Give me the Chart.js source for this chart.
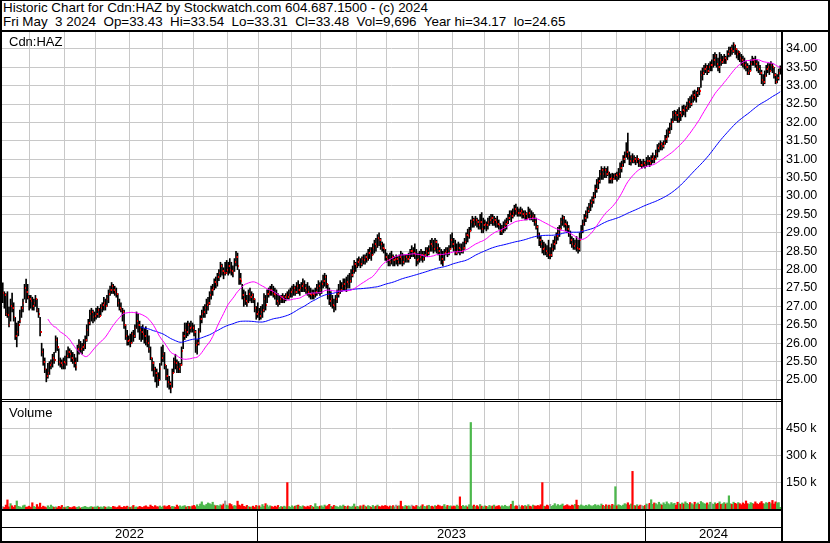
<!DOCTYPE html>
<html>
<head>
<meta charset="utf-8">
<script src="https://cdn.jsdelivr.net/npm/chart.js@4.4.1/dist/chart.umd.min.js"></script>
<style>
  body { margin: 0; background: #fff; font-family: "Liberation Sans", Arial, sans-serif; }
  #wrap { position: relative; width: 830px; height: 543px; overflow: hidden; background: #fff; }
  .ln { position: absolute; background: #000; z-index: 5; }
  .txt { position: absolute; font-size: 13px; line-height: 14px; color: #000; white-space: pre; z-index: 6; }
  .hd { font-size: 13.4px; }
  .yr { position: absolute; top: 527px; height: 14px; font-size: 13px; line-height: 14px; text-align: center; z-index: 6; }
  canvas { position: absolute; left: 0; }
</style>
</head>
<body>
<div id="wrap">
  <div class="txt hd" style="left:3px;top:1px">Historic Chart for Cdn:HAZ by Stockwatch.com 604.687.1500 - (c) 2024</div>
  <div class="txt hd" style="left:3px;top:15px">Fri May&#160; 3 2024&#160; Op=33.43&#160; Hi=33.54&#160; Lo=33.31&#160; Cl=33.48&#160; Vol=9,696&#160; Year hi=34.17&#160; lo=24.65</div>

  <canvas id="price" width="830" height="367" style="top:32px"></canvas>
  <canvas id="volume" width="830" height="107" style="top:402px"></canvas>

  <div class="txt" style="left:9px;top:35px">Cdn:HAZ</div>
  <div class="txt" style="left:9px;top:406px">Volume</div>

  <div class="ln" style="left:0;top:0;width:830px;height:1px"></div>
  <div class="ln" style="left:0;top:30px;width:830px;height:2px"></div>
  <div class="ln" style="left:0;top:0;width:2px;height:543px"></div>
  <div class="ln" style="left:828px;top:0;width:2px;height:543px"></div>
  <div class="ln" style="left:0;top:541px;width:830px;height:2px"></div>
  <div class="ln" style="left:781px;top:31px;width:2px;height:512px"></div>
  <div class="ln" style="left:0;top:399px;width:781px;height:1px"></div>
  <div class="ln" style="left:0;top:401px;width:781px;height:1px"></div>
  <div class="ln" style="left:0;top:509px;width:781px;height:2px"></div>
  <div class="ln" style="left:0;top:527px;width:781px;height:1px"></div>
  <div class="ln" style="left:257px;top:510px;width:1px;height:32px"></div>
  <div class="ln" style="left:645px;top:510px;width:1px;height:32px"></div>

  <div class="yr" style="left:2px;width:255px">2022</div>
  <div class="yr" style="left:258px;width:387px">2023</div>
  <div class="yr" style="left:646px;width:135px">2024</div>
</div>

<script>
// trading days per month, May 2022 .. May 2024
const months = ['2022-05','2022-06','2022-07','2022-08','2022-09','2022-10','2022-11','2022-12',
  '2023-01','2023-02','2023-03','2023-04','2023-05','2023-06','2023-07','2023-08','2023-09','2023-10','2023-11','2023-12',
  '2024-01','2024-02','2024-03','2024-04','2024-05'];
const monthDays = [18,22,20,22,21,20,22,20, 21,19,23,19,21,22,20,22,20,21,22,19, 22,20,20,22,3];

const highs = [
  27.64,27.4,27.35,27.4,26.98,27.2,27.36,27.1,26.7,26.55,26.6,26.9,27.0,27.2,27.6,27.74,27.6,27.3,27.3,27.25,
  27.2,27.3,27.2,26.95,26.7,26.0,25.85,25.6,25.3,25.45,25.5,25.55,25.7,25.75,26.2,26.15,25.85,25.6,25.55,25.6,
  25.65,25.8,25.9,25.85,25.8,25.75,25.7,25.6,25.95,26.1,26.05,26.0,26.1,26.2,26.5,26.65,26.9,26.95,26.9,26.85,
  26.95,27.0,26.95,27.05,27.1,27.25,27.2,27.3,27.45,27.55,27.65,27.6,27.55,27.5,27.35,27.2,27.1,26.95,26.9,26.5,
  26.35,26.2,26.25,26.3,26.35,26.5,26.85,26.8,26.6,26.45,26.5,26.4,26.45,26.35,26.2,25.9,25.6,25.5,25.35,25.3,
  25.2,25.45,25.9,25.95,25.75,25.4,25.3,25.1,24.95,25.3,25.6,25.7,25.55,25.5,25.45,25.9,26.3,26.55,26.55,26.6,
  26.55,26.6,26.55,26.5,26.35,26.1,26.4,26.75,26.9,27.0,27.05,27.2,27.25,27.4,27.55,27.6,27.75,27.8,27.9,28.0,
  28.2,28.15,28.05,28.2,28.25,28.2,28.3,28.2,28.1,28.3,28.5,28.45,28.0,27.9,27.6,27.45,27.4,27.3,27.45,27.5,
  27.4,27.35,27.2,27.0,27.1,26.95,27.0,27.05,27.35,27.3,27.45,27.5,27.55,27.6,27.55,27.5,27.45,27.35,27.3,27.3,
  27.35,27.3,27.35,27.4,27.45,27.5,27.55,27.6,27.55,27.65,27.7,27.6,27.65,27.75,27.7,27.6,27.65,27.55,27.5,27.45,
  27.45,27.5,27.6,27.7,27.65,27.7,27.85,27.9,27.85,27.6,27.5,27.4,27.3,27.2,27.3,27.45,27.6,27.7,27.65,27.75,
  27.75,27.8,27.85,27.9,28.0,28.1,28.25,28.2,28.3,28.35,28.3,28.35,28.4,28.4,28.45,28.55,28.6,28.6,28.7,28.8,
  28.85,28.95,29.0,28.85,28.75,28.7,28.55,28.45,28.4,28.45,28.5,28.4,28.35,28.4,28.35,28.4,28.5,28.45,28.4,28.4,
  28.4,28.45,28.55,28.65,28.6,28.7,28.55,28.45,28.5,28.55,28.5,28.5,28.6,28.6,28.65,28.8,28.85,28.8,28.85,28.8,
  28.7,28.6,28.55,28.5,28.55,28.6,28.6,28.65,28.95,29.0,28.85,28.8,28.7,28.75,28.7,28.7,28.75,28.85,29.0,29.1,
  29.15,29.35,29.45,29.4,29.45,29.4,29.35,29.5,29.55,29.4,29.35,29.3,29.4,29.45,29.5,29.5,29.45,29.4,29.45,29.35,
  29.25,29.2,29.3,29.35,29.4,29.5,29.6,29.6,29.65,29.75,29.78,29.7,29.65,29.7,29.65,29.6,29.6,29.55,29.7,29.65,
  29.6,29.55,29.5,29.4,29.2,29.0,28.9,28.8,28.75,28.7,28.65,28.8,28.6,28.7,28.8,28.9,29.0,29.15,29.2,29.4,
  29.48,29.45,29.35,29.3,29.2,29.05,28.9,28.85,28.8,28.9,28.8,29.0,29.2,29.35,29.5,29.6,29.7,29.8,29.9,29.98,
  30.1,30.3,30.45,30.5,30.7,30.8,30.75,30.8,30.75,30.8,30.65,30.6,30.62,30.6,30.62,30.65,30.75,30.9,30.95,31.1,
  31.2,31.45,31.71,31.2,31.1,31.15,31.1,31.05,31.1,31.0,31.0,30.95,31.0,30.95,31.05,31.1,31.05,31.1,31.17,31.1,
  31.25,31.4,31.44,31.5,31.45,31.5,31.65,31.8,31.85,31.98,32.1,32.3,32.33,32.3,32.35,32.4,32.3,32.45,32.47,32.45,
  32.55,32.65,32.7,32.75,32.85,32.88,32.85,32.95,32.95,33.4,33.48,33.55,33.6,33.55,33.6,33.65,33.7,33.85,33.9,33.85,
  33.75,33.9,33.85,33.8,33.85,33.8,33.95,34.05,34.05,34.1,34.17,34.1,34.0,33.95,33.9,33.85,33.8,33.75,33.65,33.6,
  33.55,33.7,33.8,33.75,33.8,33.7,33.65,33.55,33.42,33.3,33.4,33.55,33.6,33.6,33.65,33.6,33.5,33.33,33.3,33.45,
  33.54
];

const lows = [
  27.1,26.95,26.75,26.7,26.44,26.6,26.85,26.6,26.1,25.9,26.2,26.55,26.7,26.85,27.2,27.1,27.2,26.9,26.95,26.9,
  26.9,27.0,26.85,26.7,26.2,25.65,25.4,25.2,24.95,25.05,25.15,25.3,25.35,25.45,25.75,25.8,25.4,25.35,25.3,25.3,
  25.3,25.4,25.6,25.6,25.5,25.45,25.35,25.27,25.5,25.7,25.75,25.7,25.8,25.85,26.05,26.2,26.5,26.6,26.55,26.6,
  26.65,26.7,26.7,26.75,26.85,26.9,26.9,27.0,27.1,27.3,27.35,27.35,27.3,27.25,27.0,26.9,26.85,26.6,26.4,26.1,
  25.95,25.95,25.9,26.0,26.05,26.15,26.4,26.3,26.1,26.05,26.1,26.0,25.95,25.9,25.75,25.55,25.25,25.1,24.95,24.8,
  24.85,25.0,25.4,25.5,25.3,25.0,24.8,24.75,24.65,24.8,25.2,25.3,25.2,25.2,25.2,25.4,25.85,26.1,26.15,26.2,
  26.25,26.3,26.3,26.2,25.75,25.7,25.95,26.3,26.55,26.7,26.7,26.8,26.9,27.05,27.2,27.3,27.45,27.5,27.55,27.7,
  27.8,27.85,27.75,27.85,27.9,27.85,27.9,27.85,27.8,27.95,28.1,28.0,27.6,27.6,27.2,27.0,27.05,27.0,27.1,27.15,
  27.1,27.1,26.85,26.65,26.7,26.63,26.65,26.7,26.85,26.9,27.1,27.25,27.3,27.3,27.25,27.2,27.05,27.0,27.05,27.1,
  27.1,27.1,27.15,27.2,27.2,27.25,27.25,27.3,27.3,27.35,27.35,27.3,27.4,27.4,27.4,27.35,27.3,27.25,27.2,27.2,
  27.2,27.25,27.3,27.35,27.3,27.35,27.5,27.55,27.5,27.2,27.05,27.0,26.95,26.85,26.9,27.1,27.25,27.35,27.4,27.45,
  27.45,27.4,27.5,27.5,27.65,27.8,27.9,27.95,28.05,28.1,28.05,28.1,28.15,28.15,28.2,28.25,28.3,28.25,28.4,28.45,
  28.5,28.6,28.65,28.55,28.5,28.45,28.25,28.2,28.1,28.1,28.15,28.1,28.1,28.15,28.1,28.15,28.15,28.1,28.15,28.2,
  28.2,28.2,28.3,28.35,28.35,28.3,28.1,28.15,28.2,28.25,28.2,28.25,28.35,28.35,28.4,28.5,28.5,28.45,28.5,28.45,
  28.4,28.25,28.15,28.1,28.25,28.4,28.35,28.4,28.55,28.6,28.5,28.4,28.4,28.45,28.4,28.45,28.45,28.55,28.7,28.75,
  28.85,29.05,29.15,29.15,29.2,29.15,29.1,29.1,29.0,29.0,29.1,29.05,29.1,29.2,29.25,29.2,29.2,29.15,29.15,29.1,
  28.95,28.95,29.0,29.05,29.1,29.25,29.35,29.3,29.4,29.45,29.5,29.45,29.45,29.45,29.4,29.4,29.35,29.35,29.4,29.35,
  29.35,29.3,29.2,29.1,28.85,28.65,28.6,28.45,28.4,28.4,28.35,28.3,28.29,28.35,28.5,28.55,28.7,28.8,28.9,29.1,
  29.2,29.15,29.05,29.0,28.9,28.7,28.6,28.55,28.55,28.5,28.45,28.5,28.85,29.0,29.2,29.3,29.4,29.55,29.6,29.7,
  29.8,29.95,30.1,30.2,30.35,30.45,30.45,30.5,30.5,30.55,30.35,30.35,30.35,30.45,30.45,30.4,30.45,30.5,30.65,30.8,
  30.9,31.05,31.0,30.85,30.84,30.9,30.9,30.85,30.9,30.8,30.8,30.76,30.8,30.76,30.8,30.85,30.8,30.85,30.9,30.9,
  31.0,31.06,31.2,31.25,31.25,31.3,31.4,31.45,31.6,31.7,31.8,32.0,32.05,32.05,32.0,32.0,32.05,32.15,32.2,32.15,
  32.3,32.35,32.4,32.45,32.55,32.6,32.55,32.7,32.75,32.95,33.15,33.3,33.35,33.3,33.35,33.4,33.4,33.5,33.55,33.5,
  33.4,33.35,33.55,33.6,33.6,33.6,33.7,33.78,33.8,33.85,33.9,33.85,33.75,33.7,33.65,33.55,33.5,33.45,33.4,33.3,
  33.3,33.4,33.55,33.55,33.5,33.4,33.35,33.3,33.05,33.0,33.05,33.25,33.35,33.3,33.4,33.35,33.2,33.05,33.07,33.15,
  33.31
];

const closes = [
  27.36,27.3,26.8,26.77,26.5,27.0,26.95,26.7,26.2,26.3,26.5,26.6,26.95,27.1,27.5,27.4,27.25,27.2,27.15,27.0,
  27.1,27.2,26.9,26.8,26.3,25.75,25.5,25.3,25.1,25.2,25.4,25.45,25.6,25.55,26.1,25.9,25.5,25.45,25.4,25.5,
  25.45,25.65,25.75,25.7,25.6,25.55,25.45,25.35,25.85,25.95,25.85,25.9,25.95,26.1,26.35,26.55,26.8,26.85,26.7,26.75,
  26.8,26.9,26.75,26.95,27.05,27.1,27.0,27.2,27.35,27.45,27.55,27.45,27.4,27.35,27.1,26.95,26.9,26.85,26.5,26.2,
  26.05,26.1,26.0,26.25,26.2,26.4,26.6,26.5,26.35,26.3,26.25,26.2,26.05,26.0,25.85,25.6,25.45,25.3,25.2,25.1,
  25.0,25.3,25.6,25.7,25.4,25.1,24.95,24.9,24.78,25.2,25.5,25.45,25.35,25.3,25.4,25.8,26.2,26.35,26.3,26.5,
  26.4,26.45,26.4,26.3,25.95,26.0,26.3,26.65,26.8,26.85,26.95,27.05,27.1,27.3,27.45,27.5,27.65,27.6,27.8,27.9,
  28.1,27.95,27.9,27.9,28.0,28.1,28.0,27.95,27.9,28.2,28.35,28.1,27.75,27.7,27.3,27.2,27.15,27.1,27.35,27.25,
  27.3,27.2,26.95,26.8,26.85,26.75,26.85,26.9,27.2,27.05,27.35,27.4,27.45,27.4,27.35,27.3,27.15,27.1,27.2,27.25,
  27.2,27.25,27.3,27.25,27.3,27.4,27.45,27.5,27.4,27.55,27.45,27.5,27.55,27.6,27.5,27.45,27.4,27.35,27.3,27.35,
  27.3,27.4,27.5,27.55,27.45,27.6,27.7,27.8,27.6,27.3,27.15,27.2,27.05,27.0,27.2,27.35,27.4,27.45,27.55,27.6,
  27.5,27.65,27.6,27.7,27.85,27.95,28.15,28.1,28.2,28.25,28.15,28.3,28.25,28.35,28.3,28.45,28.5,28.4,28.6,28.7,
  28.65,28.85,28.8,28.7,28.6,28.55,28.35,28.3,28.25,28.2,28.35,28.25,28.3,28.3,28.2,28.35,28.3,28.2,28.3,28.35,
  28.3,28.35,28.5,28.5,28.45,28.4,28.25,28.3,28.35,28.4,28.3,28.4,28.5,28.45,28.55,28.7,28.65,28.55,28.75,28.6,
  28.5,28.4,28.3,28.2,28.45,28.5,28.45,28.55,28.8,28.7,28.6,28.45,28.5,28.6,28.55,28.5,28.6,28.75,28.95,28.9,
  29.05,29.3,29.35,29.25,29.35,29.3,29.2,29.3,29.1,29.2,29.25,29.2,29.3,29.35,29.4,29.3,29.35,29.3,29.25,29.2,
  29.05,29.1,29.15,29.25,29.3,29.4,29.5,29.45,29.55,29.65,29.6,29.55,29.55,29.6,29.5,29.45,29.5,29.4,29.55,29.45,
  29.4,29.45,29.3,29.15,28.95,28.8,28.7,28.55,28.6,28.5,28.45,28.4,28.4,28.55,28.7,28.75,28.9,29.0,29.1,29.3,
  29.4,29.25,29.2,29.1,29.0,28.8,28.7,28.65,28.7,28.6,28.55,28.8,29.05,29.25,29.4,29.5,29.6,29.7,29.8,29.9,
  30.0,30.2,30.35,30.4,30.6,30.7,30.6,30.7,30.6,30.65,30.45,30.5,30.45,30.55,30.58,30.55,30.6,30.75,30.85,31.0,
  31.1,31.2,31.1,30.95,31.05,30.95,31.0,30.95,31.0,30.9,30.85,30.85,30.9,30.85,30.95,30.95,30.9,31.0,31.05,31.0,
  31.15,31.3,31.35,31.4,31.35,31.45,31.55,31.6,31.75,31.9,32.0,32.2,32.25,32.2,32.1,32.25,32.2,32.35,32.3,32.4,
  32.45,32.55,32.5,32.65,32.75,32.7,32.8,32.9,32.85,33.3,33.35,33.45,33.5,33.4,33.5,33.55,33.55,33.7,33.8,33.6,
  33.5,33.7,33.65,33.7,33.75,33.7,33.85,33.95,34.0,33.95,34.1,34.0,33.85,33.9,33.75,33.7,33.6,33.55,33.5,33.35,
  33.4,33.6,33.7,33.65,33.6,33.5,33.45,33.35,33.15,33.1,33.25,33.45,33.5,33.4,33.55,33.5,33.3,33.1,33.2,33.35,
  33.48
];

// volume in thousands of shares
const volumes = [
  14,9,22,51,12,30,18,10,20,45,15,12,8,18,22,10,12,16,9,35,
  14,10,25,12,33,9,16,12,8,18,10,22,14,9,12,7,15,11,20,10,
  8,12,15,9,7,11,14,8,10,13,6,9,12,15,10,8,11,14,9,12,
  10,16,9,12,8,14,11,7,13,10,9,15,12,8,11,18,10,9,14,12,
  16,11,9,13,20,10,12,8,15,11,9,14,18,12,10,22,15,11,19,13,
  12,17,10,14,18,12,16,20,11,15,13,10,22,14,18,12,16,19,11,15,
  14,12,17,20,13,24,15,28,40,22,18,26,34,30,25,38,22,18,20,16,
  24,19,28,45,22,18,30,25,14,20,16,44,22,18,27,15,12,20,14,10,
  12,16,9,20,14,18,10,25,15,30,22,12,18,14,10,16,12,20,9,14,
  11,16,12,148,14,10,18,12,16,20,22,15,12,18,14,9,16,12,20,15,
  10,30,14,12,16,18,11,22,14,19,26,15,12,20,16,13,10,18,14,22,
  15,12,17,14,10,16,28,12,15,11,18,14,22,16,12,19,15,10,20,13,
  16,22,14,12,18,15,20,16,11,17,14,19,12,22,16,18,44,14,12,20,
  15,18,13,22,16,12,20,14,11,17,24,15,13,18,21,14,16,12,19,15,
  22,18,14,16,25,12,20,15,18,13,17,14,22,16,68,15,20,14,18,12,
  24,485,16,22,14,19,13,25,16,12,18,15,11,20,14,17,22,13,16,19,
  12,18,14,21,15,12,17,26,44,14,18,16,22,12,19,15,20,14,24,16,
  13,22,18,15,20,17,24,148,16,14,22,18,26,15,20,30,17,25,19,22,
  28,16,20,24,18,15,22,19,26,50,20,17,23,18,15,21,17,24,19,14,
  20,25,18,22,16,28,20,15,24,18,22,17,26,20,125,18,24,20,16,22,
  30,25,35,22,28,211,20,18,24,16,22,19,15,20,28,24,32,52,26,34,
  30,24,38,28,22,35,26,40,30,24,36,28,32,22,38,30,26,34,28,40,
  32,26,36,30,24,38,28,34,26,42,36,30,28,34,24,38,30,26,35,28,
  32,40,26,30,36,28,34,74,30,26,38,32,28,36,30,24,34,28,45,30,
  26,36,32,28,40,30,26,34,42,30,28,36,32,38,30,48,28,40,34,36,
  10
];

const priceTicks = [25,25.5,26,26.5,27,27.5,28,28.5,29,29.5,30,30.5,31,31.5,32,32.5,33,33.5,34];
const volumeTicks = [150, 300, 450];

// build labels + month-start flags
const labels = [];
const monthStart = [];
months.forEach((m, k) => {
  for (let d = 0; d < monthDays[k]; d++) {
    labels.push(m + '#' + (d + 1));
    monthStart.push(d === 0 && labels.length > 1);
  }
});

function movingAvg(arr, n) {
  return arr.map((v, i) => {
    if (i < n - 1) return null;
    let s = 0;
    for (let j = i - n + 1; j <= i; j++) s += arr[j];
    return s / n;
  });
}

const ma30 = movingAvg(closes, 30);
const ma90 = movingAvg(closes, 90);
const ranges = highs.map((h, i) => [lows[i], h]);
const volColors = volumes.map((v, i) => {
  if (i === 0) return '#a0a0a0';
  const d = closes[i] - closes[i - 1];
  if (Math.abs(d) < 1e-9) return '#a0a0a0';
  return d > 0 ? '#4cb84c' : '#ff0000';
});

// close tick: thin red mark just right of the bar
const closeMark = document.createElement('canvas');
closeMark.width = 3;
closeMark.height = 2;
const cm = closeMark.getContext('2d');
cm.fillStyle = '#ff0000';
cm.fillRect(2, 0, 1, 2);

const gridGray = '#c8c8c8';
const tickFont = { family: '"Liberation Sans", Arial, sans-serif', size: 12.5 };

function xScale() {
  return {
    type: 'category',
    offset: true,
    grid: {
      offset: true,
      drawTicks: false,
      color: c => monthStart[c.index] ? gridGray : 'rgba(0,0,0,0)',
      lineWidth: 1
    },
    border: { display: false },
    ticks: { display: false, autoSkip: false }
  };
}

function noEdgePadding(s) {
  s.width = 49;
  s.paddingTop = 0;
  s.paddingBottom = 0;
}

new Chart(document.getElementById('price'), {
  data: {
    labels: labels,
    datasets: [
      { type: 'line', data: ma30, borderColor: '#ff00ff', borderWidth: 1, pointRadius: 0, order: 0 },
      { type: 'line', data: ma90, borderColor: '#0000ff', borderWidth: 1, pointRadius: 0, order: 0 },
      { type: 'line', data: closes, showLine: false, pointStyle: closeMark, pointRadius: 2, order: 1 },
      { type: 'bar', data: ranges, backgroundColor: '#000', barThickness: 1, order: 2 }
    ]
  },
  options: {
    responsive: false,
    animation: false,
    layout: { autoPadding: false, padding: { left: 2, right: 0, top: 0, bottom: 0 } },
    plugins: { legend: { display: false }, tooltip: { enabled: false } },
    scales: {
      x: xScale(),
      y: {
        position: 'right',
        min: 24.484,
        max: 34.457,
        afterBuildTicks: s => { s.ticks = priceTicks.map(v => ({ value: v })); },
        afterFit: noEdgePadding,
        grid: { color: gridGray, drawTicks: false },
        border: { display: false },
        ticks: { color: '#000', font: tickFont, padding: 5, callback: v => Number(v).toFixed(2) }
      }
    }
  }
});

new Chart(document.getElementById('volume'), {
  data: {
    labels: labels,
    datasets: [
      { type: 'bar', data: volumes, backgroundColor: volColors, barPercentage: 1, categoryPercentage: 1 }
    ]
  },
  options: {
    responsive: false,
    animation: false,
    layout: { autoPadding: false, padding: { left: 2, right: 0, top: 0, bottom: 0 } },
    plugins: { legend: { display: false }, tooltip: { enabled: false } },
    scales: {
      x: xScale(),
      y: {
        position: 'right',
        min: 0,
        max: 600,
        afterBuildTicks: s => { s.ticks = volumeTicks.map(v => ({ value: v })); },
        afterFit: noEdgePadding,
        grid: { color: gridGray, drawTicks: false },
        border: { display: false },
        ticks: { color: '#000', font: tickFont, padding: 5, callback: v => v + ' k' }
      }
    }
  }
});
</script>
</body>
</html>
